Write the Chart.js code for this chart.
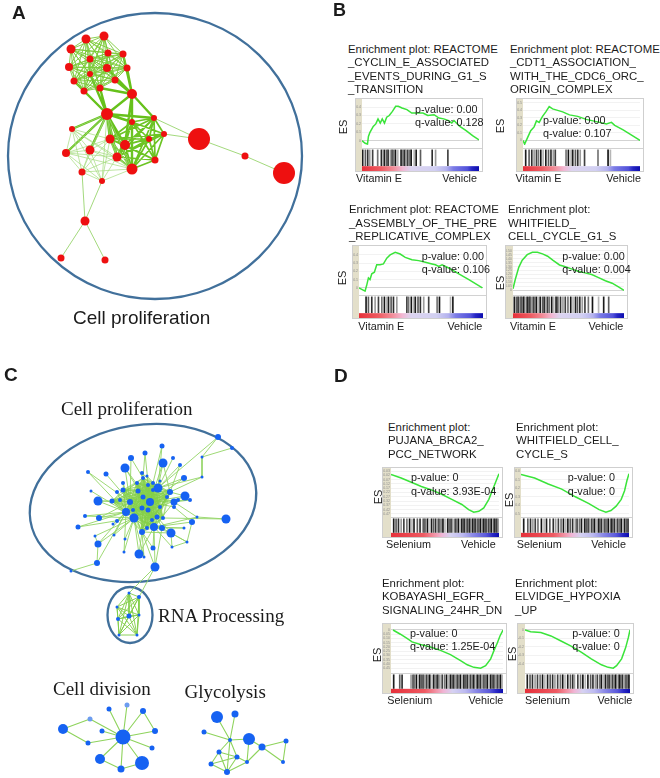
<!DOCTYPE html>
<html lang="en">
<head>
  <meta charset="UTF-8" />
  <title>Enrichment map and GSEA plots</title>
  <style>
    body { margin: 0; background: #fff; }
    #fig {
      position: relative; width: 660px; height: 778px; overflow: hidden; background: #fff;
      font-family: "Liberation Sans", Arial, sans-serif; color: #1b1b1b;
    }
    #fig canvas { position: absolute; display: block; }
    .t { position: absolute; white-space: pre; }
    .box { position: absolute; border: 1px solid #cfcfcf; box-sizing: border-box; }
  </style>
  <script src="https://cdn.jsdelivr.net/npm/chart.js"></script>
</head>
<body>
<div id="fig"></div>
<script>
// ---------- panel A : enrichment map (vitamin E), nodes [x, y, size] ----------
const aNodes = [
  [86,39,4.5],[104,36,4.5],[71,49,4.5],[108,53,3.5],[123,54,3.5],[90,59,3.5],[69,67,4],[107,68,4],
  [127,68,3.5],[90,74,3],[74,81,3.5],[115,80,3.5],[84,91,3.5],[100,88,3.5],[132,94,5],[107,114,6],
  [72,129,3],[132,122,3],[154,118,3],[164,134,3],[110,139,4.5],[125,145,5],[149,139,3],[90,150,4.5],
  [66,153,4],[117,157,4.5],[155,160,3.5],[132,169,5.5],[82,172,3.5],[102,181,3],[199,139,11],[245,156,3.5],
  [284,173,11],[85,221,4.5],[61,258,3.5],[105,260,3.5]
];
const aTopCluster = [0,1,2,3,4,5,6,7,8,9,10,11,12,13];
const aCoreCluster = [17,18,19,20,21,22,25,26,27];
const aLeftCluster = [15,16,20,23,24,25,27,28,29];
const aHubLinks = [[15,9],[15,10],[15,12],[15,13],[15,14],[15,16],[15,20],[15,21],[15,23],[15,24],[15,25],[15,27],
  [15,17],[15,18],[14,4],[14,7],[14,8],[14,11],[14,13],[14,17],[14,21],[14,27],[14,18]];
const aTailLinks = [[18,30],[19,30],[30,31],[31,32],[28,33],[29,33],[33,34],[33,35]];

// ---------- panel C : enrichment map (selenium), nodes [x, y, size] ----------
const cNodes = [
  [125,468,4.5],[163,463,4.5],[98,501,4.5],[158,488,4.5],[185,496,4.5],[134,518,4.5],[126,512,4],[150,502,4],
  [171,533,4.5],[226,519,4.5],[139,554,4.5],[155,567,4.5],[154,527,4],[98,544,3.5],[174,502,3.5],[184,478,3],
  [97,563,3],[99,518,3],[78,527,2.5],[131,458,3],[145,453,2.5],[162,446,2.5],[173,458,2],[180,465,2],
  [88,472,2],[106,474,2.5],[123,483,2],[91,491,1.5],[218,437,3],[232,448,2],[202,457,1.5],[202,477,1.5],
  [197,517,1.5],[192,522,3],[184,528,1.5],[187,542,1.5],[172,547,1.5],[153,548,2.5],[144,557,1.5],[124,552,1.5],
  [125,539,1.5],[114,535,1.5],[117,521,2],[113,524,1.5],[85,516,2],[95,536,1.5],[71,571,1.5],[112,501,2.5],
  [117,492,2],[123,490,2.5],[138,491,2.5],[143,497,2.5],[130,502,3],[142,508,2.5],[148,510,2.5],[157,517,2.5],
  [162,528,3],[142,532,3],[147,528,2],[170,492,3],[167,497,2],[174,507,2],[190,500,2],[178,500,2],
  [153,483,2],[148,485,2],[143,478,2],[137,483,2],[153,490,2],[160,507,2],[133,510,2],[120,500,2],
  [152,520,2],[163,518,2],[142,473,2],[147,476,1.5],[160,481,1.5],
  // RNA processing
  [129,593,1.5],[139,597,2],[117,607,1.5],[118,619,2],[129,616,2.5],[139,615,1.5],[119,635,1.5],[137,635,1.5],
  // cell division
  [63,729,5],[90,719,2.5],[109,709,2.5],[127,705,2.5],[143,711,3],[155,731,3],[102,731,2.5],[123,737,7.5],
  [88,743,2.5],[152,748,2.5],[100,759,5],[142,763,7],[121,769,3.5],
  // glycolysis
  [217,717,6],[235,714,3.5],[204,732,2.5],[230,740,2],[249,739,6],[262,747,3.5],[286,741,2.5],[219,752,2.5],
  [237,757,2.5],[247,762,2],[211,764,2.5],[227,772,3],[283,762,2]
];
const cPale = [86, 88];
const cCore = [3,5,6,7,12,47,49,50,51,52,53,54,55,57,58,59,60,64,65,66,67,68,69,70,72,73];
const cSpokes = [
  [0,52],[0,51],[0,7],[1,7],[1,3],[1,59],[2,52],[2,6],[2,47],[4,7],[4,59],[4,69],[8,12],[8,55],[8,57],
  [9,32],[9,73],[10,57],[10,5],[10,12],[11,12],[11,57],[11,56],[13,5],[13,6],[14,7],[14,12],[15,7],[15,3],
  [16,13],[16,6],[17,6],[17,52],[18,6],[18,5],[19,52],[19,66],[20,66],[20,7],[21,3],[21,64],[22,3],[23,3],
  [23,59],[24,52],[24,6],[25,52],[26,52],[26,6],[27,6],[28,30],[29,30],[30,31],[31,3],[31,59],[28,3],
  [32,12],[32,14],[33,12],[33,61],[34,12],[34,56],[35,8],[35,56],[35,33],[35,36],[36,8],[36,12],[37,57],
  [37,12],[38,57],[38,5],[39,5],[39,6],[40,5],[41,6],[41,5],[42,6],[43,6],[44,6],[44,5],[45,5],[45,13],
  [46,16],[48,6],[61,7],[62,7],[62,14],[63,7],[71,52],[74,7],[74,3],[75,3],[75,7],[76,3],[56,12],[56,5],
  [56,7],[11,77],[11,78]
];
const cRna = [77,78,79,80,81,82,83,84];
const cDivisionLinks = [[92,86],[92,87],[92,88],[92,89],[92,90],[92,91],[92,93],[92,94],[92,95],[92,96],[92,97],
  [85,86],[85,93],[89,90],[95,97],[97,96]];
const cGlycolysisLinks = [[98,101],[99,101],[100,101],[101,102],[101,105],[101,106],[101,109],[102,103],[103,104],
  [103,110],[104,110],[102,107],[103,107],[105,108],[105,109],[108,109],[105,106],[106,109],[108,106],[109,107],[106,107]];

// ---------- panels B and D : GSEA running enrichment scores [rank %, ES] and hit ranks ----------
const esB1 = [[0,0],[2.7,-0.03],[4.7,-0.04],[5.5,0.05],[6.8,0.10],[9.6,0.17],[11.8,0.20],[13.7,0.26],[15.6,0.21],
  [17.3,0.26],[19.2,0.21],[21.1,0.28],[23.3,0.30],[26,0.35],[28.8,0.41],[31,0.41],[34.2,0.39],[38.4,0.37],
  [42.5,0.33],[46.6,0.33],[52.1,0.33],[56.2,0.30],[61.6,0.31],[65.8,0.27],[69.9,0.26],[74,0.24],[76.7,0.21],
  [78.6,0.24],[83.6,0.17],[89,0.12],[94.5,0.06],[100,0.01]];
const hitsB1 = [0.6,2.9,4.9,6.6,9.1,13.4,16.6,17.7,19.1,20.9,22.3,24.3,25.7,27.1,28.6,30.6,33.4,35.1,36.6,37.7,
  39.1,40.6,42,44.6,46.3,50,60,62.9,73.4];
const esB2 = [[0,0],[1.4,-0.05],[3.7,0.03],[6.6,0.13],[9.5,0.18],[11.5,0.26],[13.8,0.24],[16.7,0.32],[19.5,0.38],
  [22.4,0.45],[25.3,0.42],[29.6,0.40],[33.9,0.38],[39.7,0.34],[46.8,0.32],[54,0.28],[59.8,0.26],[65.5,0.24],
  [71.3,0.22],[75.6,0.24],[78.4,0.20],[85.6,0.14],[92.8,0.07],[100,0]];
const hitsB2 = [2.3,5.2,7.5,9.5,11.5,13.2,15.2,17.2,19.5,21.8,23.9,25.9,27.6,36.8,38.8,41.1,42.5,44.8,46.8,48.9,
  52.6,64.1,72.7,74.7];
const esB3 = [[0,0],[4.9,-0.04],[6.2,0.03],[7.6,0.12],[8.9,0.10],[10.3,0.17],[12.4,0.19],[14.3,0.28],[17,0.28],
  [19.7,0.29],[22.4,0.36],[25.1,0.40],[29.2,0.43],[33.2,0.41],[37.3,0.37],[42.7,0.34],[48.1,0.33],[53.5,0.31],
  [58.9,0.29],[61.6,0.28],[64.3,0.26],[67,0.28],[72.4,0.24],[80.5,0.17],[88.6,0.10],[99.5,0]];
const hitsB3 = [5.7,7.6,10.3,13,15.7,18.4,20.5,22.4,23.8,25.9,27.8,30.5,38.6,40,42.2,44.1,45.4,47.6,49.5,52.2,
  56.2,63,64.9,73.8,75.7];
const esB4 = [[0,0.02],[2.1,0.14],[5.2,0.29],[8.3,0.38],[12.8,0.45],[17.4,0.48],[22,0.48],[26.6,0.46],[31.2,0.43],
  [35.8,0.38],[41.9,0.32],[46.5,0.30],[52.6,0.27],[58.7,0.24],[64.8,0.22],[70.9,0.20],[77.1,0.16],[83.2,0.12],
  [89.3,0.09],[95.4,0.04],[100,0]];
const hitsB4 = [1.2,3.1,4.6,6.1,7.3,8.6,9.8,11.3,12.8,14.1,15.3,16.8,18.3,19.6,21.1,22.6,24.5,26.6,28.1,29.7,31.2,
  32.7,34.9,36.7,38.8,40.4,42.8,45,47.1,49.5,52,54.1,56.3,58.1,60.2,62.4,64.8,67.9,71.6,77.1,81.7,86.2];
const esD1 = [[0,-0.01],[9.4,-0.05],[18.8,-0.10],[28.1,-0.15],[37.5,-0.19],[46.9,-0.24],[56.3,-0.30],[65.6,-0.36],
  [71.9,-0.42],[76.6,-0.45],[81.3,-0.44],[85.9,-0.40],[90.6,-0.30],[95.3,-0.15],[98.4,-0.05],[100,0]];
const hitsD1 = [2.5,4.7,6.9,9.4,11.9,14.7,17.2,19.4,21.3,24.4,26.9,29.4,30.6,31.9,33.8,35,37.5,39.4,41.3,43.1,44.4,
  46.3,48.1,50,52.5,53.8,55.6,57.2,59.4,60.9,62.5,64.4,65.6,66.9,68.1,69.4,70.6,71.9,73.1,74.4,75.6,76.9,78.1,
  79.4,80.6,81.9,83.1,84.4,85.6,86.9,88.1,89.4,90.6,91.9,93.1,94.4,95.6,96.9,98.1,99.4];
const esD2 = [[0,-0.01],[12.6,-0.05],[25.2,-0.12],[37.7,-0.18],[50.3,-0.27],[62.9,-0.35],[72.3,-0.42],[78.6,-0.45],
  [83.3,-0.43],[88.1,-0.38],[92.8,-0.30],[95.9,-0.20],[98.1,-0.08],[100,0]];
const hitsD2 = [2.5,6.3,8.8,11,13.2,15.7,18.9,21.4,23.6,26.7,29.9,32.1,34.6,37.1,39.3,41.5,43.4,45.6,47.8,50.3,51.9,
  54.1,56,57.2,59.1,60.7,62.3,63.5,65.4,66.7,68.2,69.8,71.7,73,74.5,76.1,77.7,79.2,80.8,82.4,83.6,84.9,86.5,88.1,
  89.6,91.2,92.8,94.3,95.9,97.5,99.1];
const esD3 = [[1.8,0],[8.4,-0.05],[14.3,-0.10],[18.8,-0.14],[26.3,-0.17],[35.2,-0.20],[44.2,-0.24],[53.1,-0.29],
  [62.1,-0.36],[68.1,-0.41],[74,-0.44],[80,-0.45],[84.5,-0.42],[89,-0.34],[92,-0.24],[95,-0.15],[97.3,-0.07],[100,0]];
const hitsD3 = [2.4,7.8,9.9,17.9,19.7,20.9,22.7,24.2,25.7,27.2,28.7,29.9,31.6,33.1,34.6,36.7,38.2,40.3,41.8,43.6,
  45.7,47.8,49.6,51.6,53.1,54.6,56.1,57.6,59.1,60.6,62.1,63.6,65.1,66.6,68.1,69.6,71,72.5,74,75.5,77,78.5,80,
  81.5,83,84.5,86,87.5,89,90.4,91.9,93.4,94.9,96.4,97.9,99.4];
const esD4 = [[0,0],[5.4,-0.02],[15.1,-0.03],[24.7,-0.07],[34.3,-0.13],[43.9,-0.19],[53.5,-0.26],[63.1,-0.34],
  [72.8,-0.41],[79.2,-0.44],[84,-0.45],[87.2,-0.42],[92,-0.34],[95.8,-0.21],[98.4,-0.09],[100,0]];
const hitsD4 = [2.2,4.8,7.1,9.6,11.9,14.4,16.7,18.9,21.5,24,26.3,28.5,31.1,33.7,35.9,38.1,40.7,43.3,45.5,47.1,50.3,
  52.9,55.1,57.4,59.9,62.5,64.7,67,68.9,71.2,72.8,74.7,76.6,78.5,80.1,81.7,83.3,84.9,86.5,88.1,89.7,91.3,92.9,
  94.6,96.2,97.8,99];

const titles = {
  b1: ['Enrichment plot: REACTOME', '_CYCLIN_E_ASSOCIATED', '_EVENTS_DURING_G1_S', '_TRANSITION'],
  b2: ['Enrichment plot: REACTOME', '_CDT1_ASSOCIATION_', 'WITH_THE_CDC6_ORC_', 'ORIGIN_COMPLEX'],
  b3: ['Enrichment plot: REACTOME', '_ASSEMBLY_OF_THE_PRE', '_REPLICATIVE_COMPLEX'],
  b4: ['Enrichment plot:', 'WHITFIELD_', 'CELL_CYCLE_G1_S'],
  d1: ['Enrichment plot:', 'PUJANA_BRCA2_', 'PCC_NETWORK'],
  d2: ['Enrichment plot:', 'WHITFIELD_CELL_', 'CYCLE_S'],
  d3: ['Enrichment plot:', 'KOBAYASHI_EGFR_', 'SIGNALING_24HR_DN'],
  d4: ['Enrichment plot:', 'ELVIDGE_HYPOXIA', '_UP']
};
const pValues = { b1: '0.00', b2: '0.00', b3: '0.00', b4: '0.00', d1: '0', d2: '0', d3: '0', d4: '0' };
const qValues = { b1: '0.128', b2: '0.107', b3: '0.106', b4: '0.004', d1: '3.93E-04', d2: '0', d3: '1.25E-04', d4: '0' };

// ---------- layout ----------
const fig = document.getElementById('fig');
const base = { animation: false, responsive: false, events: [],
  plugins: { legend: { display: false }, tooltip: { enabled: false } } };

const gradB = [[0,'#e6303a'],[0.16,'#ee5c62'],[0.27,'#f28e9a'],[0.35,'#f2b8d4'],[0.42,'#dcd4f0'],[0.62,'#d2d0f2'],
  [0.72,'#b4b2ee'],[0.78,'#7c7ce6'],[0.9,'#5252da'],[0.94,'#2626c4'],[1,'#0c0cae']];
const gradD = [[0,'#e6303a'],[0.3,'#ee5a62'],[0.4,'#f292a4'],[0.47,'#f0b6d6'],[0.55,'#d6d2f2'],[0.66,'#bdbaf0'],
  [0.76,'#8a88e6'],[0.88,'#5a58da'],[0.94,'#2a28c6'],[1,'#0c0cae']];

const plots = [
  { id: 'b1', es: esB1, hits: hitsB1, y: [-0.05, 0.46], step: 0.1, box: [355, 98, 128, 74], esH: 49, strip: 6,
    title: [348, 53.5], pq: [415, 113.3], esLbl: [343, 127], lbl: [356, 477, 182.7], names: ['Vitamin E', 'Vehicle'], grad: gradB },
  { id: 'b2', es: esB2, hits: hitsB2, y: [-0.06, 0.51], step: 0.1, box: [516, 98, 128, 74], esH: 49, strip: 6,
    title: [510, 53.5], pq: [543, 124], esLbl: [500, 126], lbl: [515.5, 641, 182.7], names: ['Vitamin E', 'Vehicle'], grad: gradB },
  { id: 'b3', es: esB3, hits: hitsB3, y: [-0.05, 0.47], step: 0.1, box: [352, 245, 135, 74], esH: 49, strip: 6,
    title: [349, 214], pq: [421.7, 260], esLbl: [342, 278], lbl: [358.3, 482.3, 330], names: ['Vitamin E', 'Vehicle'], grad: gradB },
  { id: 'b4', es: esB4, hits: hitsB4, y: [-0.02, 0.52], step: 0.05, box: [505, 245, 123, 74], esH: 49, strip: 7,
    title: [508, 214], pq: [562.3, 260], esLbl: [500, 283], lbl: [510, 623.3, 330], names: ['Vitamin E', 'Vehicle'], grad: gradB },
  { id: 'd1', es: esD1, hits: hitsD1, y: [-0.47, 0.03], step: 0.05, box: [382, 467, 121, 71], esH: 49, strip: 8,
    title: [388, 431.7], pq: [411, 481.7], esLbl: [378, 497], lbl: [386, 495.7, 548], names: ['Selenium', 'Vehicle'], grad: gradD },
  { id: 'd2', es: esD2, hits: hitsD2, y: [-0.47, 0.03], step: 0.1, box: [514, 467, 119, 71], esH: 49, strip: 6,
    title: [516, 431.7], pq: [567.7, 481.7], esLbl: [509, 500], lbl: [516.7, 626, 548], names: ['Selenium', 'Vehicle'], grad: gradD },
  { id: 'd3', es: esD3, hits: hitsD3, y: [-0.47, 0.034], step: 0.05, box: [382, 623, 125, 71], esH: 49, strip: 8,
    title: [382, 587.3], pq: [410, 637.3], esLbl: [377, 655], lbl: [387.3, 503.3, 704], names: ['Selenium', 'Vehicle'], grad: gradD },
  { id: 'd4', es: esD4, hits: hitsD4, y: [-0.47, 0.034], step: 0.1, box: [517, 623, 117, 71], esH: 49, strip: 7,
    title: [515, 587.3], pq: [572.3, 637.3], esLbl: [512, 654], lbl: [525, 632.3, 704], names: ['Selenium', 'Vehicle'], grad: gradD }
];

// text placed by its baseline
function addText(str, x, baseline, o = {}) {
  const fs = o.fs || 10.8, lh = o.lh || fs * 1.2;
  const asc = o.serif ? 0.891 : 0.905, desc = o.serif ? 0.216 : 0.212;
  const top = baseline - ((lh - (asc + desc) * fs) / 2 + asc * fs);
  const d = document.createElement('div');
  d.className = 't';
  d.textContent = str;
  d.style.top = top + 'px';
  if (o.right) d.style.right = (660 - x) + 'px'; else d.style.left = x + 'px';
  d.style.fontSize = fs + 'px';
  d.style.lineHeight = lh + 'px';
  if (o.bold) d.style.fontWeight = 'bold';
  if (o.serif) d.style.fontFamily = '"Liberation Serif", "Times New Roman", serif';
  fig.appendChild(d);
  return d;
}

function mkCanvas(parent, left, top, w, h) {
  const c = document.createElement('canvas');
  c.width = w; c.height = h;
  c.style.left = left + 'px'; c.style.top = top + 'px';
  parent.appendChild(c);
  return c;
}

// ellipses drawn in data units through the chart scales
const ringPlugin = (list) => ({
  id: 'rings',
  beforeDatasetsDraw(chart) {
    const { ctx, scales: { x, y } } = chart;
    list.forEach(e => {
      const cx = x.getPixelForValue(e.cx), cy = y.getPixelForValue(e.cy);
      const rx = Math.abs(x.getPixelForValue(e.cx + e.rx) - cx);
      const ry = Math.abs(y.getPixelForValue(e.cy + e.ry) - cy);
      ctx.save();
      ctx.beginPath();
      ctx.ellipse(cx, cy, rx, ry, e.rot * Math.PI / 180, 0, Math.PI * 2);
      ctx.lineWidth = 2.3;
      ctx.strokeStyle = '#41709b';
      ctx.stroke();
      ctx.restore();
    });
  }
});

function cliquePairs(group) {
  const out = [];
  for (let i = 0; i < group.length; i++)
    for (let j = i + 1; j < group.length; j++) out.push([group[i], group[j]]);
  return out;
}

function edgePoints(nodes, pairs) {
  const pts = [];
  pairs.forEach(([a, b]) => {
    pts.push({ x: nodes[a][0], y: nodes[a][1] }, { x: nodes[b][0], y: nodes[b][1] }, { x: null, y: null });
  });
  return pts;
}

function edgeSet(nodes, pairs, color, width) {
  return { data: edgePoints(nodes, pairs), showLine: true, borderColor: color, borderWidth: width,
    pointRadius: 0, pointHoverRadius: 0, spanGaps: false, order: 5 };
}

function network(canvas, nodes, xr, yr, nodeColor, edgeSets, rings) {
  new Chart(canvas, {
    type: 'scatter',
    data: {
      datasets: [
        { type: 'bubble', order: 0, borderWidth: 0, hoverRadius: 0,
          data: nodes.map(n => ({ x: n[0], y: n[1], r: n[2] })),
          backgroundColor: nodeColor },
        ...edgeSets
      ]
    },
    options: {
      ...base,
      layout: { padding: 0, autoPadding: false },
      scales: {
        x: { type: 'linear', min: xr[0], max: xr[1], display: false },
        y: { type: 'linear', min: yr[0], max: yr[1], reverse: true, display: false }
      }
    },
    plugins: [ringPlugin(rings)]
  });
}

// panel A
network(mkCanvas(fig, 0, 0, 330, 340), aNodes, [0, 330], [0, 340], '#ee1010', [
  edgeSet(aNodes, cliquePairs(aTopCluster), '#7ccb3a', 0.9),
  edgeSet(aNodes, cliquePairs(aLeftCluster), '#a3db7c', 0.7),
  edgeSet(aNodes, cliquePairs(aCoreCluster), '#6cc423', 1.7),
  edgeSet(aNodes, aHubLinks, '#66c11b', 2.4),
  edgeSet(aNodes, aTailLinks, '#98d56e', 0.9)
], [{ cx: 155, cy: 156, rx: 147, ry: 143, rot: 0 }]);

// panel C
network(mkCanvas(fig, 0, 380, 330, 398), cNodes, [0, 330], [380, 778],
  ctx => cPale.includes(ctx.dataIndex) ? '#6c9cf0' : '#1662f2', [
  edgeSet(cNodes, cliquePairs(cCore), '#84cf4a', 0.55),
  edgeSet(cNodes, cSpokes, '#93d565', 0.9),
  edgeSet(cNodes, cliquePairs(cRna), '#80cd46', 0.9),
  edgeSet(cNodes, cDivisionLinks, '#8ed35c', 1.1),
  edgeSet(cNodes, cGlycolysisLinks, '#8ed35c', 1.1)
], [{ cx: 143, cy: 503, rx: 114, ry: 78, rot: -9 }, { cx: 130, cy: 615, rx: 22.5, ry: 28, rot: 0 }]);

// GSEA colour band under the hit marks
const bandPlugin = (top, stops) => ({
  id: 'band',
  beforeDatasetsDraw(chart) {
    const { ctx, scales: { x, y } } = chart;
    const x0 = x.getPixelForValue(0), x1 = x.getPixelForValue(100);
    const y0 = y.getPixelForValue(top), y1 = y.getPixelForValue(0);
    const g = ctx.createLinearGradient(x0, 0, x1, 0);
    stops.forEach(([o, c]) => g.addColorStop(o, c));
    ctx.fillStyle = g;
    ctx.fillRect(x0, y0, x1 - x0, y1 - y0);
  }
});

const shades = ['#1c1c1c', '#5c5c5c', '#2e2e2e', '#9c9c9c', '#404040', '#747474', '#141414', '#b6b6b6'];

plots.forEach(p => {
  const [L, T, W, H] = p.box;
  const wrap = document.createElement('div');
  wrap.className = 'box';
  wrap.style.left = L + 'px'; wrap.style.top = T + 'px';
  wrap.style.width = W + 'px'; wrap.style.height = H + 'px';
  wrap.style.background = `linear-gradient(to right, #e3dfca 0, #e3dfca ${p.strip}px, #fff ${p.strip}px)`;
  fig.appendChild(wrap);
  const iw = W - 2, ih = H - 2;

  new Chart(mkCanvas(wrap, 0, 0, iw, p.esH), {
    type: 'line',
    data: { datasets: [{ data: p.es.map(([x, y]) => ({ x, y })), borderColor: '#3ae43a', borderWidth: 1.5,
      pointRadius: 0, pointHoverRadius: 0, tension: 0 }] },
    options: {
      ...base,
      layout: { padding: { right: 3, top: 0, bottom: 0, left: 0 }, autoPadding: false },
      scales: {
        x: { type: 'linear', min: 0, max: 100, display: false },
        y: { min: p.y[0], max: p.y[1], afterFit: s => { s.width = p.strip; },
          border: { display: false },
          grid: { drawTicks: false, lineWidth: 0.8,
            color: c => (c.tick && Math.abs(c.tick.value) < 1e-9) ? '#c8c8c8' : '#efefef' },
          ticks: { stepSize: p.step, includeBounds: false, autoSkip: false, padding: 1,
            font: { size: 3.5 }, color: '#8c8c8c' } }
      }
    }
  });

  const sep = document.createElement('div');
  sep.style.cssText = `position:absolute;left:${p.strip}px;top:${p.esH}px;width:${iw - p.strip}px;height:1px;background:#d2d2d2;`;
  wrap.appendChild(sep);

  const bandTop = 0.22;
  new Chart(mkCanvas(wrap, 0, p.esH + 1, iw, ih - p.esH - 1), {
    type: 'bar',
    data: { datasets: [{ data: p.hits.map(x => ({ x, y: [bandTop + 0.02, 0.96] })), barThickness: 1,
      backgroundColor: c => shades[c.dataIndex % shades.length] }] },
    options: {
      ...base,
      layout: { padding: { left: p.strip, right: 3, top: 0, bottom: 0 }, autoPadding: false },
      scales: {
        x: { type: 'linear', min: 0, max: 100, offset: false, display: false, grid: { offset: false } },
        y: { min: 0, max: 1, display: false }
      }
    },
    plugins: [bandPlugin(bandTop, p.grad)]
  });

  // texts
  const t = titles[p.id];
  t.forEach((line, i) => addText(line, p.title[0], p.title[1] + i * 13.45, { fs: 11.4, lh: 13.45 }));
  addText('p-value: ' + pValues[p.id], p.pq[0], p.pq[1], { fs: 10.8 });
  addText('q-value: ' + qValues[p.id], p.pq[0], p.pq[1] + 13.4, { fs: 10.8 });
  addText(p.names[0], p.lbl[0], p.lbl[2], { fs: 10.8 });
  addText(p.names[1], p.lbl[1], p.lbl[2], { fs: 10.8, right: true });
  const es = document.createElement('div');
  es.className = 't';
  es.textContent = 'ES';
  es.style.cssText += `left:${p.esLbl[0]}px;top:${p.esLbl[1]}px;font-size:11px;line-height:11px;transform:translate(-50%,-50%) rotate(-90deg);`;
  fig.appendChild(es);
});

// panel letters and network labels
addText('A', 12, 20.3, { fs: 19, bold: true });
addText('B', 333, 17.5, { fs: 18, bold: true });
addText('C', 4, 382, { fs: 19, bold: true });
addText('D', 334, 383, { fs: 19, bold: true });
addText('Cell proliferation', 73, 325, { fs: 19 });
addText('Cell proliferation', 61, 416, { fs: 19, serif: true });
addText('RNA Processing', 158, 623, { fs: 19, serif: true });
addText('Cell division', 53, 696, { fs: 19, serif: true });
addText('Glycolysis', 184.5, 699.3, { fs: 19, serif: true });
</script>
</body>
</html>
